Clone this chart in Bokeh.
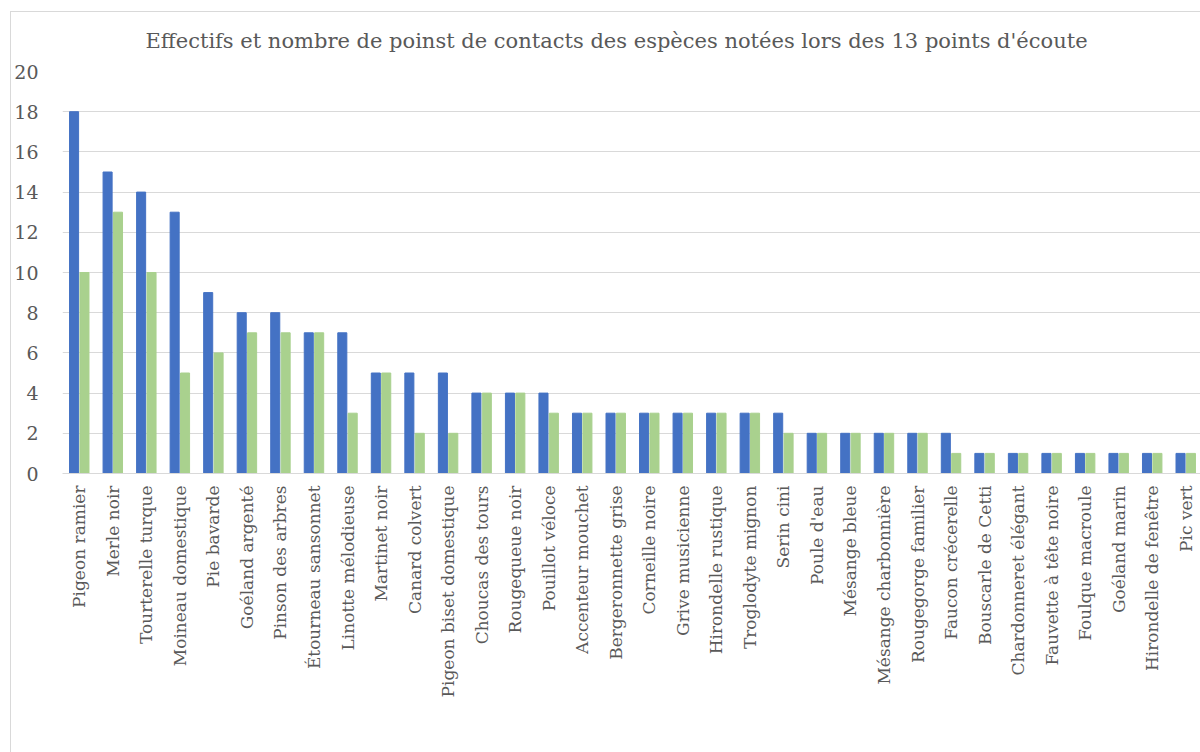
from bokeh.plotting import figure
from bokeh.layouts import column
from bokeh.models import ColumnDataSource, FactorRange, Legend, LegendItem, SingleIntervalTicker
from bokeh.transform import dodge
from bokeh.embed import file_html
from bokeh.resources import INLINE
import math

categories = ["Pigeon ramier", "Merle noir", "Tourterelle turque", "Moineau domestique",
              "Pie bavarde", "Goéland argenté", "Pinson des arbres", "Étourneau sansonnet",
              "Linotte mélodieuse", "Martinet noir", "Canard colvert", "Pigeon biset domestique",
              "Choucas des tours", "Rougequeue noir", "Pouillot véloce", "Accenteur mouchet",
              "Bergeronnette grise", "Corneille noire", "Grive musicienne", "Hirondelle rustique",
              "Troglodyte mignon", "Serin cini", "Poule d'eau", "Mésange bleue",
              "Mésange charbonnière", "Rougegorge familier", "Faucon crécerelle",
              "Bouscarle de Cetti", "Chardonneret élégant", "Fauvette à tête noire",
              "Foulque macroule", "Goéland marin", "Hirondelle de fenêtre", "Pic vert"]
effectifs = [18, 15, 14, 13, 9, 8, 8, 7, 7, 5, 5, 5, 4, 4, 4, 3, 3, 3, 3, 3, 3, 3,
             2, 2, 2, 2, 2, 1, 1, 1, 1, 1, 1, 1]
contacts = [10, 13, 10, 5, 6, 7, 7, 7, 3, 5, 2, 2, 4, 4, 3, 3, 3, 3, 3, 3, 3, 2,
            2, 2, 2, 2, 1, 1, 1, 1, 1, 1, 1, 1]
series_names = ["Effectifs cumulés", "Nombre de points de contacts"]
title_text = "Effectifs et nombre de poinst de contacts des espèces notées lors des 13 points d'écoute"

FONT = "DejaVu Serif"
TXT = "#595959"
GRID = "#d9d9d9"

src = ColumnDataSource(dict(cat=categories, eff=effectifs, con=contacts))

p = figure(x_range=FactorRange(*categories), y_range=(0, 20),
           frame_width=1140, frame_height=402, output_backend="svg", toolbar_location=None,
           min_border_left=49, min_border_right=0, min_border_top=0, min_border_bottom=0)

p.title.text = title_text
p.title.text_font = FONT
p.title.text_font_size = "21px"
p.title.text_font_style = "normal"
p.title.text_color = TXT
p.title.align = "left"
p.title.offset = 83
p.title.vertical_align = "top"
p.title.standoff = 33

r1 = p.vbar(x=dodge("cat", -0.155, range=p.x_range), top="eff", width=0.27,
            source=src, color="#4472C4")
r2 = p.vbar(x=dodge("cat", 0.155, range=p.x_range), top="con", width=0.27,
            source=src, color="#A9D18E")

p.outline_line_color = None
p.xgrid.grid_line_color = None
p.ygrid.grid_line_color = GRID
p.ygrid.grid_line_width = 1

p.yaxis.ticker = SingleIntervalTicker(interval=2)
p.yaxis.axis_line_color = None
p.yaxis.major_tick_line_color = None
p.yaxis.minor_tick_line_color = None
p.yaxis.major_label_text_font = FONT
p.yaxis.major_label_text_font_size = "19px"
p.yaxis.major_label_text_color = TXT
p.yaxis.major_label_standoff = 18

p.xaxis.axis_line_color = GRID
p.xaxis.major_tick_line_color = None
p.xaxis.minor_tick_line_color = None
p.xaxis.major_label_orientation = math.pi / 2
p.xaxis.major_label_text_font = FONT
p.xaxis.major_label_text_font_size = "17px"
p.xaxis.major_label_text_color = TXT
p.xaxis.major_label_standoff = 6

legend = Legend(items=[LegendItem(label=series_names[0], renderers=[r1]),
                       LegendItem(label=series_names[1], renderers=[r2])],
                orientation="horizontal", location="center")
legend.label_text_font = FONT
legend.label_text_font_size = "17px"
legend.label_text_color = TXT
legend.glyph_width = 10
legend.glyph_height = 10
legend.label_standoff = 4
legend.spacing = 33
legend.padding = 0
legend.margin = 0
legend.label_height = 18
legend.border_line_color = None
legend.background_fill_alpha = 0
p.add_layout(legend, "below")

layout = column(p, margin=(11, 0, 0, 10),
                styles={"border-left": "1px solid #d9d9d9", "border-top": "1px solid #d9d9d9"})

open("out.html", "w").write(file_html(layout, INLINE))
